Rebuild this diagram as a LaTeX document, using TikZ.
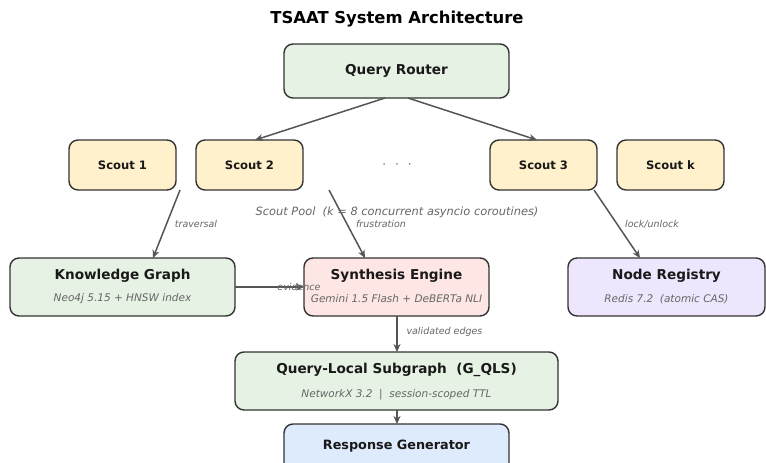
\documentclass[tikz,border=0pt]{standalone}
\usepackage{fontspec}
\setmainfont{DejaVu Sans}
\usetikzlibrary{arrows.meta}
\definecolor{edgegray}{HTML}{333333}
\definecolor{linegray}{HTML}{555555}
\definecolor{labelgray}{HTML}{666666}
\definecolor{fillgreen}{HTML}{E6F2E4}
\definecolor{fillyellow}{HTML}{FFF1CC}
\definecolor{fillred}{HTML}{FDE6E4}
\definecolor{fillpurple}{HTML}{EEE6FD}
\definecolor{fillblue}{HTML}{DDEBFC}
\tikzset{
  box/.style={draw=edgegray, line width=1.4pt, rounded corners=9pt},
  boxtitle/.style={font=\bfseries\fontsize{13.6}{15}\selectfont, text=black!90},
  scouttitle/.style={font=\bfseries\fontsize{11.6}{13}\selectfont, text=black!90},
  boxsub/.style={font=\itshape\fontsize{10.5}{12}\selectfont, text=labelgray},
  edgelabel/.style={font=\itshape\fontsize{9.5}{11}\selectfont, text=labelgray},
  flow/.style={draw=linegray, line width=1.5pt, -{Stealth[length=8pt,width=7pt]}},
}
\begin{document}
\begin{tikzpicture}[x=1pt, y=-1pt]
\useasboundingbox (0,0) rectangle (766,463);
\fill[white] (0,0) rectangle (766,463);

% title
\node[font=\bfseries\fontsize{16.4}{18}\selectfont] (title) at (397,19) {TSAAT System Architecture};

% router
\draw[box, fill=fillgreen] (284,44) rectangle (509,98);
\node[boxtitle] (router) at (396.5,71) {Query Router};
\coordinate (routerL) at (385,98);
\coordinate (routerR) at (408,98);

% scouts
\draw[box, fill=fillyellow] (69,140) rectangle (176,190);
\node[scouttitle] (s1) at (122.5,165) {Scout 1};
\draw[box, fill=fillyellow] (196,140) rectangle (303,190);
\node[scouttitle] (s2) at (249.5,165) {Scout 2};
\draw[box, fill=fillyellow] (490,140) rectangle (597,190);
\node[scouttitle] (s3) at (543.5,165) {Scout 3};
\draw[box, fill=fillyellow] (617,140) rectangle (724,190);
\node[scouttitle] (sk) at (670.5,165) {Scout k};
\node[text=labelgray, font=\fontsize{12}{13}\selectfont] (dots) at (397,166) {·\hspace{9pt}·\hspace{9pt}·};

\coordinate (s2top) at (255,140);
\coordinate (s3top) at (537,140);
\coordinate (s1bot) at (180,190);
\coordinate (s2bot) at (329,190);
\coordinate (s3bot) at (594,190);

% lower row
\draw[box, fill=fillgreen] (10,258) rectangle (235,316);
\node[boxtitle] (kg) at (122.5,276) {Knowledge Graph};
\node[boxsub] (kgsub) at (122.5,299) {Neo4j 5.15 + HNSW index};

\draw[box, fill=fillred] (304,258) rectangle (489,316);
\node[boxtitle] (se) at (396.5,276) {Synthesis Engine};
\node[boxsub] (sesub) at (396.5,299) {Gemini 1.5 Flash + DeBERTa NLI};

\draw[box, fill=fillpurple] (568,258) rectangle (765,316);
\node[boxtitle] (nr) at (666.5,276) {Node Registry};
\node[boxsub] (nrsub) at (666.5,299) {Redis 7.2\ \ (atomic CAS)};

\draw[box, fill=fillgreen] (235,352) rectangle (558,410);
\node[boxtitle] (qls) at (396.5,370) {Query-Local Subgraph\ \ (G\_QLS)};
\node[boxsub] (qlssub) at (396.5,395) {NetworkX 3.2\ \ |\ \ session-scoped TTL};

\draw[box, fill=fillblue] (284,424) rectangle (509,480);
\node[font=\bfseries\fontsize{12.8}{14}\selectfont, text=black!90] (rg) at (396.5,446) {Response Generator};

\coordinate (kgtop) at (153,258);
\coordinate (setop) at (365,258);
\coordinate (nrtop) at (640,258);
\coordinate (kgright) at (235,287);
\coordinate (seleft) at (304,287);
\coordinate (sebot) at (397,316);
\coordinate (qlstop) at (397,352);
\coordinate (qlsbot) at (397,410);
\coordinate (rgtop) at (397,424);

% connectors
\draw[flow] (routerL) -- (s2top);
\draw[flow] (routerR) -- (s3top);
\draw[flow] (s1bot) -- (kgtop);
\draw[flow] (s2bot) -- (setop);
\draw[flow] (s3bot) -- (nrtop);
\draw[flow] (kgright) -- (seleft);
\draw[flow] (sebot) -- (qlstop);
\draw[flow] (qlsbot) -- (rgtop);

% labels
\node[edgelabel] (ltrav) at (196,224) {traversal};
\node[edgelabel] (lfrus) at (381,224) {frustration};
\node[edgelabel] (llock) at (652,224) {lock/unlock};
\node[edgelabel] (levid) at (299,287) {evidence};
\node[edgelabel, anchor=west] (lval) at (403,332) {validated edges};
\node[font=\itshape\fontsize{11.4}{13}\selectfont, text=labelgray] (pool) at (397,212) {Scout Pool\ \ (k = 8 concurrent asyncio coroutines)};
\end{tikzpicture}
\end{document}
